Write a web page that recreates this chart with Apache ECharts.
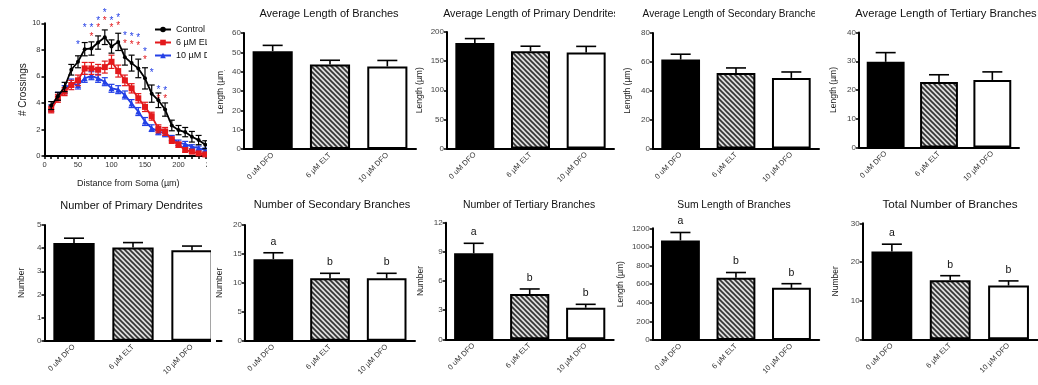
<!DOCTYPE html>
<html><head><meta charset="utf-8">
<script src="https://cdn.jsdelivr.net/npm/echarts@6/dist/echarts.min.js"></script>
<style>html,body{margin:0;padding:0;background:#fff}#c{width:1038px;height:385px}</style>
</head><body><div id="c"></div>
<script>
// ---------- data ----------
const groups = ['0 uM DFO', '6 µM ELT', '10 µM DFO'];
const lineNames = ['Control', '6 µM ELT', '10 µM DFO'];
const distance = [10,20,30,40,50,60,70,80,90,100,110,120,130,140,150,160,170,180,190,200,210,220,230,240];
const crossControl = [3.8,4.5,5.2,6.5,7.1,8.05,8.1,8.55,8.95,8.25,8.6,7.45,7.0,6.6,5.85,4.7,4.2,3.5,2.3,1.95,1.8,1.45,1.2,0.85];
const crossControlSem = [0.3,0.3,0.35,0.4,0.45,0.5,0.5,0.5,0.55,0.5,0.65,0.6,0.6,0.7,0.8,0.65,0.55,0.5,0.4,0.35,0.35,0.4,0.35,0.3];
const crossELT = [3.5,4.35,4.85,5.35,5.7,6.6,6.6,6.5,6.7,7.1,6.4,5.7,5.1,4.35,3.7,3.0,2.05,1.85,1.2,0.85,0.45,0.33,0.2,0.12];
const crossELTSem = [0.25,0.3,0.3,0.35,0.4,0.45,0.45,0.4,0.45,0.5,0.45,0.4,0.35,0.35,0.35,0.3,0.3,0.3,0.25,0.2,0.15,0.12,0.1,0.08];
const crossDFO = [3.6,4.5,5.0,5.5,5.35,5.85,6.05,5.85,5.6,5.1,5.0,4.6,3.95,3.35,2.6,2.1,1.85,1.7,1.35,1.0,0.9,0.7,0.6,0.45];
const crossDFOSem = [0.25,0.3,0.3,0.3,0.3,0.3,0.3,0.3,0.3,0.3,0.3,0.3,0.3,0.3,0.3,0.25,0.25,0.25,0.2,0.2,0.2,0.15,0.15,0.15];
const starsBlue = [[50,8.5],[60,9.75],[70,9.75],[80,10.3],[90,10.9],[100,10.3],[110,10.55],[120,9.2],[130,9.1],[140,9.0],[150,7.95],[160,6.4],[170,5.1],[180,5.0]];
const starsRed = [[70,9.1],[80,9.75],[90,10.3],[100,9.75],[110,9.9],[120,8.6],[130,8.5],[140,8.4],[150,7.35],[170,4.45],[180,4.45]];

const avgBranchLen = [50.6, 43.7, 42.7], avgBranchLenSem = [3.0, 2.2, 3.1];
const avgPrimLen = [181, 167, 165], avgPrimLenSem = [7.7, 8.6, 10.3];
const avgSecLen = [61.6, 52.3, 48.9], avgSecLenSem = [3.7, 3.5, 4.1];
const avgTerLen = [29.8, 22.8, 23.5], avgTerLenSem = [3.2, 2.5, 2.8];
const numPrim = [4.22, 4.03, 3.91], numPrimSem = [0.21, 0.21, 0.18];
const numSec = [14.1, 10.8, 10.8], numSecSem = [1.1, 0.85, 0.85];
const numTer = [8.85, 4.66, 3.25], numTerSem = [1.03, 0.52, 0.35];
const sumLen = [1070, 670, 560], sumLenSem = [85, 55, 45];
const totalNum = [22.7, 15.3, 13.9], totalNumSem = [1.9, 1.15, 1.2];
const sigLetters = ['a', 'b', 'b'];

// ---------- styles ----------
const FONT = '"Liberation Sans", Arial, sans-serif';
const RED = '#e3191c', BLUE = '#2440e6';

function hatchPattern() {
  const s = 5, c = document.createElement('canvas');
  c.width = s; c.height = s;
  const g = c.getContext('2d');
  g.fillStyle = '#dcdcdc'; g.fillRect(0, 0, s, s);
  g.strokeStyle = '#333'; g.lineWidth = 1.7;
  [-s, 0, s].forEach(ox => {
    g.beginPath(); g.moveTo(ox - 1, -1); g.lineTo(ox + s + 1, s + 1); g.stroke();
  });
  return c;
}
const hatch = { image: hatchPattern(), repeat: 'repeat' };
const barFills = ['#000', hatch, '#fff'];

const panels = [
  { title: 'Average Length of Branches', fs: 11, tx: 329, ty: 14, g: [244, 33, 172, 116], gap: 18.5, max: 60, step: 10, yName: 'Length (µm)', v: avgBranchLen, e: avgBranchLenSem },
  { title: 'Average Length of Primary Dendrites', fs: 10.7, tx: 531, ty: 14, g: [447, 32, 167, 116.5], gap: 22.5, max: 200, step: 50, yName: 'Length (µm)', v: avgPrimLen, e: avgPrimLenSem },
  { title: 'Average Length of Secondary Branches', fs: 10.1, tx: 732, ty: 14, g: [653, 33, 166, 115.5], gap: 20.5, max: 80, step: 20, yName: 'Length (µm)', v: avgSecLen, e: avgSecLenSem },
  { title: 'Average Length of Tertiary Branches', fs: 11.2, tx: 946, ty: 13.5, g: [859, 32.5, 160, 115], gap: 20.5, max: 40, step: 10, yName: 'Length (µm)', v: avgTerLen, e: avgTerLenSem },
  { title: 'Number of Primary Dendrites', fs: 11, tx: 131.5, ty: 206, g: [44.5, 225, 177, 115.7], gap: 18, max: 5, step: 1, yName: 'Number', v: numPrim, e: numPrimSem },
  { title: 'Number of Secondary Branches', fs: 11, tx: 332, ty: 205, g: [245, 225, 170, 115.7], gap: 20.5, max: 20, step: 5, yName: 'Number', v: numSec, e: numSecSem, L: sigLetters },
  { title: 'Number of Tertiary Branches', fs: 10.4, tx: 529, ty: 205, g: [445.7, 222.7, 168, 116.6], gap: 21, max: 12, step: 3, yName: 'Number', v: numTer, e: numTerSem, L: sigLetters },
  { title: 'Sum Length of Branches', fs: 10.3, tx: 734, ty: 205, g: [652.7, 228.3, 166.5, 111.7], gap: 28, max: 1200, step: 200, yName: 'Length (µm)', v: sumLen, e: sumLenSem, L: sigLetters },
  { title: 'Total Number of Branches', fs: 11.7, tx: 950, ty: 205, g: [862.7, 223.3, 175, 116], gap: 22.5, max: 30, step: 10, yName: 'Number', v: totalNum, e: totalNumSem, L: sigLetters }
];

const grid = [], xAxis = [], yAxis = [], series = [], graphic = [];

// ---------- line chart (Sholl) ----------
grid.push({ left: 44.5, top: 23.3, width: 167.5, height: 132.7 });
xAxis.push({
  type: 'value', gridIndex: 0, min: 0, max: 250, interval: 10,
  name: 'Distance from Soma (µm)', nameLocation: 'middle', nameGap: 23,
  nameTextStyle: { fontFamily: FONT, fontSize: 9, color: '#222' },
  axisLine: { lineStyle: { color: '#000', width: 2 } },
  axisTick: { length: 3, lineStyle: { color: '#000', width: 1.5 } },
  axisLabel: { fontFamily: FONT, fontSize: 7.5, color: '#333', margin: 5, formatter: v => (v % 50 === 0 ? String(v) : '') },
  splitLine: { show: false }
});
yAxis.push({
  type: 'value', gridIndex: 0, min: 0, max: 10, interval: 2,
  name: '# Crossings', nameLocation: 'middle', nameGap: 13,
  nameTextStyle: { fontFamily: FONT, fontSize: 10, color: '#222' },
  axisLine: { show: true, lineStyle: { color: '#000', width: 2 } },
  axisTick: { show: true, length: 3, lineStyle: { color: '#000', width: 1.5 } },
  axisLabel: { fontFamily: FONT, fontSize: 7.5, color: '#333', margin: 4 },
  splitLine: { show: false }
});
const lineSets = [
  { name: lineNames[2], v: crossDFO, e: crossDFOSem, c: BLUE, sym: 'triangle', size: 6 },
  { name: lineNames[1], v: crossELT, e: crossELTSem, c: RED, sym: 'rect', size: 6 },
  { name: lineNames[0], v: crossControl, e: crossControlSem, c: '#000', sym: 'circle', size: 4 }
];
lineSets.forEach((s, k) => {
  series.push({
    type: 'custom', xAxisIndex: 0, yAxisIndex: 0, z: 3 + k * 2, silent: true,
    data: distance.map((d, i) => [d, s.v[i], s.e[i]]),
    encode: { x: 0, y: 1 },
    renderItem: (p, api) => {
      const x = api.value(0), v = api.value(1), e = api.value(2);
      const a = api.coord([x, v - e]), b = api.coord([x, v + e]);
      const st = { stroke: s.c, lineWidth: 1.2 };
      return { type: 'group', children: [
        { type: 'line', shape: { x1: a[0], y1: a[1], x2: b[0], y2: b[1] }, style: st },
        { type: 'line', shape: { x1: a[0] - 3, y1: a[1], x2: a[0] + 3, y2: a[1] }, style: st },
        { type: 'line', shape: { x1: b[0] - 3, y1: b[1], x2: b[0] + 3, y2: b[1] }, style: st }
      ] };
    }
  });
  series.push({
    type: 'line', name: s.name, xAxisIndex: 0, yAxisIndex: 0, z: 4 + k * 2,
    data: distance.map((d, i) => [d, s.v[i]]),
    symbol: s.sym, symbolSize: s.size, showSymbol: true,
    lineStyle: { color: s.c, width: 1.8 }, itemStyle: { color: s.c },
    animation: false
  });
});
[[starsBlue, BLUE], [starsRed, RED]].forEach(([pts, col]) => {
  series.push({
    type: 'custom', xAxisIndex: 0, yAxisIndex: 0, z: 10, silent: true, clip: false,
    data: pts, encode: { x: 0, y: 1 },
    renderItem: (p, api) => {
      const c = api.coord([api.value(0), api.value(1)]);
      return { type: 'text', x: c[0], y: c[1] + 2, style: { text: '*', fill: col, font: '10px ' + FONT, textAlign: 'center', textVerticalAlign: 'middle' } };
    }
  });
});

// ---------- bar panels ----------
panels.forEach((P, idx) => {
  const gi = idx + 1;
  grid.push({ left: P.g[0], top: P.g[1], width: P.g[2], height: P.g[3] });
  xAxis.push({
    type: 'category', gridIndex: gi, data: groups,
    axisLine: { lineStyle: { color: '#000', width: 2 } },
    axisTick: { show: false },
    axisLabel: { fontFamily: FONT, fontSize: 7.5, color: '#333', rotate: 45, margin: 5, interval: 0 }
  });
  yAxis.push({
    type: 'value', gridIndex: gi, min: 0, max: P.max, interval: P.step,
    name: P.yName, nameLocation: 'middle', nameGap: P.gap,
    nameTextStyle: { fontFamily: FONT, fontSize: 8.5, color: '#222' },
    axisLine: { show: true, lineStyle: { color: '#000', width: 2 } },
    axisTick: { show: true, length: 3, lineStyle: { color: '#000', width: 1.5 } },
    axisLabel: { fontFamily: FONT, fontSize: 8, color: '#444', margin: 3, formatter: v => String(v) },
    splitLine: { show: false }
  });
  series.push({
    type: 'bar', xAxisIndex: gi, yAxisIndex: gi, barCategoryGap: idx === 3 ? '29%' : '30%', z: 2,
    data: P.v.map((v, i) => ({ value: v, itemStyle: { color: barFills[i], borderColor: '#000', borderWidth: 2 } })),
    animation: false, silent: true
  });
  const letters = P.L;
  series.push({
    type: 'custom', xAxisIndex: gi, yAxisIndex: gi, z: 3, silent: true, clip: false,
    data: P.v.map((v, i) => [i, v, P.e[i]]), encode: { x: 0, y: 1 },
    renderItem: (p, api) => {
      const i = api.value(0), v = api.value(1), e = api.value(2);
      const a = api.coord([i, v]), b = api.coord([i, v + e]);
      const st = { stroke: '#000', lineWidth: 1.6 };
      const ch = [
        { type: 'line', shape: { x1: a[0], y1: a[1], x2: b[0], y2: b[1] }, style: st },
        { type: 'line', shape: { x1: b[0] - 10, y1: b[1], x2: b[0] + 10, y2: b[1] }, style: st }
      ];
      if (letters) ch.push({ type: 'text', x: b[0], y: b[1] - 11, style: { text: letters[p.dataIndex], fill: '#111', font: '10.5px ' + FONT, textAlign: 'center', textVerticalAlign: 'middle' } });
      return { type: 'group', children: ch };
    }
  });
  graphic.push({ type: 'text', x: P.tx, y: P.ty, z: 50, style: { text: P.title, fill: '#111', font: P.fs + 'px ' + FONT, textAlign: 'center', textVerticalAlign: 'middle' } });
});

// panel crops (the reference panels are cut at their edges)
graphic.push({ type: 'rect', z: 100, shape: { x: 207, y: 0, width: 10, height: 190 }, style: { fill: '#fff' } });
graphic.push({ type: 'rect', z: 100, shape: { x: 207, y: 20, width: 22, height: 50 }, style: { fill: '#fff' } });
graphic.push({ type: 'rect', z: 100, shape: { x: 207, y: 150, width: 13, height: 40 }, style: { fill: '#fff' } });
graphic.push({ type: 'rect', z: 100, shape: { x: 211, y: 190, width: 5, height: 195 }, style: { fill: '#fff' } });
graphic.push({ type: 'rect', z: 100, shape: { x: 615, y: 4, width: 12, height: 20 }, style: { fill: '#fff' } });
graphic.push({ type: 'rect', z: 100, shape: { x: 815, y: 4, width: 12, height: 20 }, style: { fill: '#fff' } });

const chart = echarts.init(document.getElementById('c'), null, { renderer: 'canvas' });
chart.setOption({
  animation: false,
  backgroundColor: '#fff',
  grid, xAxis, yAxis, series, graphic,
  legend: {
    data: lineNames, orient: 'vertical', left: 154, top: 25, padding: 0, itemWidth: 16, itemHeight: 7, itemGap: 4,
    textStyle: { fontFamily: FONT, fontSize: 9, color: '#111' }, selectedMode: false
  }
});
</script></body></html>
